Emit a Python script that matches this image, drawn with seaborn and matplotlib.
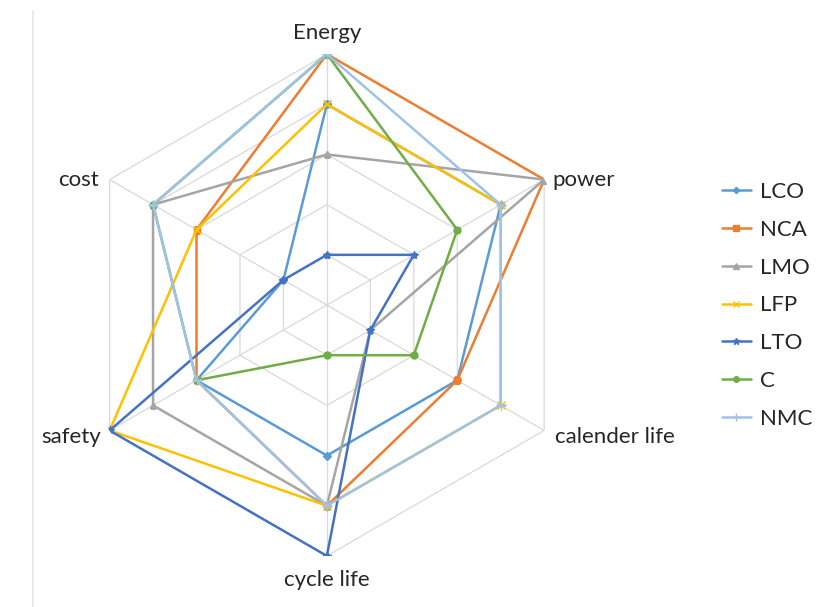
import numpy as np
import matplotlib
matplotlib.use('Agg')
import matplotlib.pyplot as plt
from matplotlib.lines import Line2D
import seaborn as sns

# --- DATA ---
axes_labels = ['Energy', 'power', 'calender life', 'cycle life', 'safety', 'cost']
series_names = ['LCO', 'NCA', 'LMO', 'LFP', 'LTO', 'C', 'NMC']
LCO = [4, 4, 3, 3, 3, 1]
NCA = [5, 5, 3, 4, 3, 3]
LMO = [3, 5, 1, 4, 4, 4]
LFP = [4, 4, 4, 4, 5, 3]
LTO = [1, 2, 1, 5, 5, 1]
C = [5, 3, 2, 1, 3, 4]
NMC = [5, 4, 4, 4, 3, 4]
ring_levels = [1, 2, 3, 4, 5]

# --- STYLE ---
sns.set_style('white')
plt.rcParams['font.family'] = ['Lato', 'DejaVu Sans']
colors = ['#5B9BD5', '#ED7D31', '#A5A5A5', '#FFC000', '#4472C4', '#70AD47', '#9DC3E6']
markers = ['D', 's', '^', 'x', '*', 'o', '+']
msizes = [4, 5, 5, 6, 6, 5, 7]
text_color = '#262626'
grid_color = '#D9D9D9'
FS = 16

fig = plt.figure(figsize=(8.24, 6.07), dpi=100)
ax = fig.add_axes([0.0922, 0.084, 0.609, 0.827], projection='polar')
ax.set_theta_offset(np.pi / 2)
ax.set_theta_direction(-1)
ax.set_ylim(0, 5)
ax.grid(False)
ax.spines['polar'].set_visible(False)
ax.set_xticks([])
ax.set_yticks([])

n = len(axes_labels)
theta = np.arange(n) * 2 * np.pi / n
theta_closed = np.append(theta, theta[0])

# hexagonal grid
for r in ring_levels:
    ax.plot(theta_closed, [r] * (n + 1), color=grid_color, lw=0.9, zorder=1)
for t in theta:
    ax.plot([t, t], [0, 5], color=grid_color, lw=0.9, zorder=1)

# series
all_vals = [LCO, NCA, LMO, LFP, LTO, C, NMC]
for name, vals, col, mk, ms in zip(series_names, all_vals, colors, markers, msizes):
    v = np.append(vals, vals[0])
    sns.lineplot(x=theta_closed, y=v, ax=ax, color=col, lw=1.8, marker=mk,
                 markersize=ms, markeredgecolor=col, markeredgewidth=1.0,
                 sort=False, estimator=None, label=name, legend=False, zorder=3)

# axis labels
offsets = [((0, 8), 'center', 'bottom'), ((6, 0), 'left', 'center'),
           ((8, -5), 'left', 'center'), ((0, -10), 'center', 'top'),
           ((-6, -5), 'right', 'center'), ((-8, 0), 'right', 'center')]
for t, lab, (off, ha, va) in zip(theta, axes_labels, offsets):
    ax.annotate(lab, xy=(t, 5), xytext=off, textcoords='offset points',
                ha=ha, va=va, fontsize=FS, color=text_color, annotation_clip=False)

# legend
handles = [Line2D([0], [0], color=c, lw=1.8, marker=m, markersize=s * 0.8,
                  markeredgecolor=c) for c, m, s in zip(colors, markers, msizes)]
leg = fig.legend(handles, series_names, loc='center left', bbox_to_anchor=(0.876, 0.497),
                 frameon=False, fontsize=FS, labelspacing=0.8, handlelength=1.3,
                 handletextpad=0.4, borderpad=0, borderaxespad=0)
for t in leg.get_texts():
    t.set_color(text_color)

# faint left border
fig.add_artist(Line2D([0.04, 0.04], [0.0, 0.982], transform=fig.transFigure,
                      color='#E6E6E6', lw=1.2))

plt.savefig('out.png', dpi=100)
